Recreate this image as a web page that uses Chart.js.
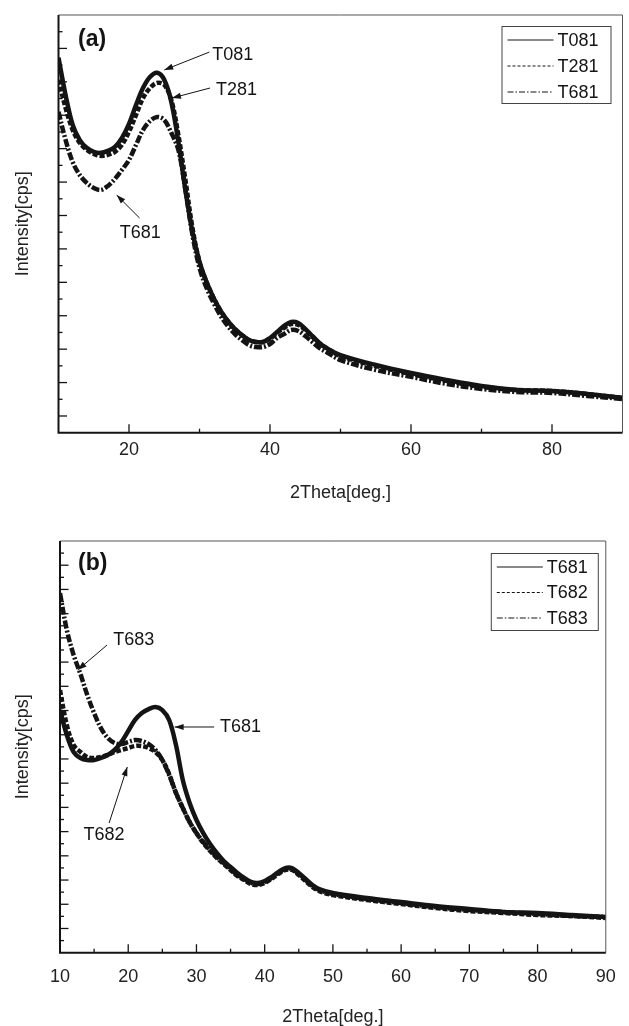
<!DOCTYPE html>
<html><head><meta charset="utf-8">
<script src="https://cdn.jsdelivr.net/npm/chart.js@4.4.1/dist/chart.umd.min.js"></script>
<style>
html,body{margin:0;padding:0;background:#fff;}
#wrap{position:relative;width:629px;height:1026px;overflow:hidden;}
canvas{position:absolute;left:0;}
</style></head><body>
<div id="wrap">
<canvas id="ca" width="629" height="515" style="top:0;width:629px;height:515px"></canvas>
<canvas id="cb" width="629" height="511" style="top:515px;width:629px;height:511px"></canvas>
</div>
<script>
// 2Theta sampling positions (deg.)
const twoTheta = [10,11,12,13,14,15,16,17,18,19,20,21,22,23,24,25,26,27,28,29,30,31,32,33,34,35,36,37,38,39,40,41,42,43,44,45,46,47,48,50,55,60,65,70,75,80,85,90];

// Panel (a) intensities (arbitrary units)
const T081a = [22.44,20.22,18.43,17.53,17.05,16.81,16.75,16.87,17.11,17.65,18.49,19.62,20.64,21.30,21.54,21.12,19.80,17.41,14.53,12.02,10.22,9.02,8.07,7.29,6.69,6.21,5.85,5.55,5.43,5.43,5.67,6.03,6.39,6.63,6.57,6.21,5.79,5.37,5.07,4.65,4.05,3.57,3.16,2.80,2.56,2.50,2.32,2.08];
const T281a = [21.12,19.44,18.13,17.35,16.93,16.69,16.57,16.63,16.81,17.23,18.01,19.02,20.04,20.64,20.94,20.82,19.92,17.83,15.13,12.26,10.22,9.02,8.07,7.29,6.69,6.21,5.85,5.55,5.43,5.43,5.61,5.97,6.27,6.51,6.45,6.15,5.73,5.37,5.07,4.59,3.99,3.51,3.10,2.74,2.56,2.50,2.32,2.08];
const T681a = [19.20,17.53,16.21,15.43,14.95,14.65,14.53,14.77,15.19,15.73,16.33,17.23,18.13,18.66,18.90,18.72,17.95,16.93,14.53,11.84,9.86,8.66,7.77,6.99,6.39,5.91,5.55,5.25,5.13,5.13,5.31,5.67,5.91,6.15,6.09,5.79,5.43,5.07,4.83,4.35,3.75,3.34,2.92,2.62,2.44,2.38,2.20,2.02];

// Panel (b) intensities
const T681b = [20.04,17.98,16.57,16.08,15.91,15.91,16.08,16.33,16.74,17.40,18.31,19.22,19.79,20.12,20.29,20.04,19.22,17.15,14.26,12.36,10.96,9.88,8.98,8.23,7.57,7.08,6.58,6.17,5.84,5.76,5.92,6.25,6.66,6.99,6.99,6.58,6.09,5.59,5.26,4.93,4.52,4.19,3.86,3.61,3.36,3.28,3.11,2.95];
const T682b = [21.69,18.80,17.15,16.57,16.16,16.08,16.16,16.33,16.57,16.74,16.90,17.07,17.07,16.90,16.57,15.91,14.76,13.19,11.95,10.79,9.88,9.06,8.40,7.82,7.32,6.83,6.33,6.00,5.67,5.59,5.76,6.09,6.50,6.83,6.83,6.42,5.92,5.43,5.09,4.76,4.35,4.02,3.69,3.44,3.28,3.11,3.03,2.87];
const T683b = [29.70,26.65,24.58,23.01,21.28,19.79,18.55,17.73,17.32,17.23,17.40,17.56,17.48,17.23,16.74,15.91,14.67,13.19,11.95,10.79,9.88,9.14,8.48,7.90,7.41,6.91,6.42,6.09,5.76,5.67,5.84,6.17,6.58,6.91,6.91,6.50,6.00,5.51,5.18,4.85,4.43,4.10,3.77,3.53,3.36,3.20,3.03,2.95];

const seriesA = ['T081','T281','T681'];
const seriesB = ['T681','T682','T683'];
const xTitle = '2Theta[deg.]';
const yTitle = 'Intensity[cps]';

const FONT = '"Liberation Sans", Arial, Helvetica, sans-serif';
const INK = '#141414';

function pts(arr){ return twoTheta.map((x,i)=>({x:x, y:arr[i]})); }

function arrow(ctx, x1,y1,x2,y2){
  ctx.beginPath(); ctx.moveTo(x1,y1); ctx.lineTo(x2,y2); ctx.stroke();
  const a = Math.atan2(y2-y1, x2-x1), L=9, W=3;
  ctx.beginPath();
  ctx.moveTo(x2,y2);
  ctx.lineTo(x2 - L*Math.cos(a) + W*Math.sin(a), y2 - L*Math.sin(a) - W*Math.cos(a));
  ctx.lineTo(x2 - L*Math.cos(a) - W*Math.sin(a), y2 - L*Math.sin(a) + W*Math.cos(a));
  ctx.closePath(); ctx.fill();
}

const decor = {
  id:'decor',
  afterDraw(chart){
    const o = chart.options.plugins.decor;
    const {ctx, chartArea:ca, scales:{x,y}} = chart;
    ctx.save();
    ctx.strokeStyle = INK; ctx.fillStyle = INK;
    // inward ticks
    ctx.lineWidth = 1.3;
    x.ticks.forEach(t=>{
      if (t.value<=x.min || t.value>=x.max) return;
      const px = x.getPixelForValue(t.value);
      const len = (t.value % o.xMajor === 0) ? 8.5 : 4;
      ctx.beginPath(); ctx.moveTo(px, ca.bottom); ctx.lineTo(px, ca.bottom-len); ctx.stroke();
    });
    y.ticks.forEach(t=>{
      if (t.value<=y.min || t.value>=y.max) return;
      const py = y.getPixelForValue(t.value);
      const len = (Math.abs(t.value % 2) === o.yMajorRem) ? 8.5 : 4;
      ctx.beginPath(); ctx.moveTo(ca.left, py); ctx.lineTo(ca.left+len, py); ctx.stroke();
    });
    // frame
    ctx.lineWidth = 1; ctx.strokeStyle = '#555';
    ctx.beginPath(); ctx.moveTo(ca.left, ca.top); ctx.lineTo(ca.right, ca.top); ctx.lineTo(ca.right, ca.bottom); ctx.stroke();
    ctx.lineWidth = 2; ctx.strokeStyle = INK;
    ctx.beginPath(); ctx.moveTo(ca.left, ca.top); ctx.lineTo(ca.left, ca.bottom); ctx.lineTo(ca.right, ca.bottom); ctx.stroke();
    // panel tag
    ctx.font = 'bold 23px ' + FONT; ctx.textAlign='left'; ctx.textBaseline='middle';
    ctx.fillText(o.tag, ca.left + o.tagDx, ca.top + o.tagDy);
    // annotations
    ctx.font = '18px ' + FONT; ctx.lineWidth = 1;
    o.notes.forEach(n=>{
      ctx.fillText(n.text, x.getPixelForValue(n.tx), y.getPixelForValue(n.ty));
      arrow(ctx, x.getPixelForValue(n.x1), y.getPixelForValue(n.y1), x.getPixelForValue(n.x2), y.getPixelForValue(n.y2));
    });
    // legend
    const L = o.legend;
    const bx = ca.right - L.dRight - L.w, by = ca.top + L.dTop;
    ctx.lineWidth = 1; ctx.strokeStyle = '#444';
    ctx.strokeRect(bx+0.5, by+0.5, L.w, L.h);
    chart.data.datasets.forEach((ds,i)=>{
      const ry = by + L.row0 + i*L.rowGap;
      ctx.strokeStyle = INK; ctx.lineWidth = 1.1;
      ctx.setLineDash(ds.legendDash || []);
      ctx.beginPath(); ctx.moveTo(bx+6, ry); ctx.lineTo(bx+52, ry); ctx.stroke();
      ctx.setLineDash([]);
      ctx.fillText(ds.label, bx+56, ry+1);
    });
    ctx.restore();
  }
};

function makeChart(id, labels, dataArrs, cfg){
  const dashes = [[], [5,2], [8,2,2,2]];
  const legendDashes = [[], [3,2], [6,2,1.5,2]];
  return new Chart(document.getElementById(id), {
    type:'line',
    data:{ datasets: labels.map((lab,i)=>({
      label: lab, data: pts(dataArrs[i]),
      borderColor: INK, borderWidth: 4.5, borderDash: dashes[i], legendDash: legendDashes[i],
      pointRadius: 0, tension: 0.35, fill:false
    }))},
    options:{
      responsive:false, animation:false, devicePixelRatio:1,
      layout:{ padding: cfg.padding },
      plugins:{ legend:{display:false}, tooltip:{enabled:false}, decor: cfg.decor },
      scales:{
        x:{ type:'linear', position:'bottom', min:10, max:90,
            grid:{display:false, drawTicks:false}, border:{display:false},
            ticks:{ stepSize: cfg.xStep, autoSkip:false, maxRotation:0, color:'#222',
                    font:{family:FONT, size:18}, padding: cfg.xLabelPad,
                    callback: v => cfg.xShow(v) ? String(v) : '' },
            title:{ display:true, text:xTitle, color:'#222', font:{family:FONT, size:18, lineHeight:1},
                    padding:{top:0, bottom: cfg.xTitlePad} },
            afterFit: s => { s.height = cfg.xHeight; } },
        y:{ min:0, max: cfg.yMax,
            grid:{display:false, drawTicks:false}, border:{display:false},
            ticks:{ stepSize:1, display:false },
            title:{ display:true, text:yTitle, color:'#222', font:{family:FONT, size:18, lineHeight:1},
                    padding:{top: cfg.yTitlePad, bottom:0} },
            afterFit: s => { s.width = cfg.yWidth; } }
      }
    },
    plugins:[decor]
  });
}

makeChart('ca', seriesA, [T081a, T281a, T681a], {
  padding:{left:0, top:15, right:3, bottom:0},
  xStep:10, xShow: v => v%20===0 && v>10 && v<90, xLabelPad:6.5, xTitlePad:13, xHeight:82.3,
  yMax:25, yTitlePad:14, yWidth:58.5,
  decor:{ xMajor:20, yMajorRem:1, tag:'(a)', tagDx:19.5, tagDy:25,
    notes:[
      {text:'T081', tx:31.8, ty:22.6, x1:31.4, y1:22.78, x2:25.0, y2:21.71},
      {text:'T281', tx:32.35, ty:20.5, x1:31.5, y1:20.63, x2:26.1, y2:20.03},
      {text:'T681', tx:18.7, ty:11.95, x1:21.5, y1:12.85, x2:18.25, y2:14.22}
    ],
    legend:{ w:109, h:77, dRight:12, dTop:11, row0:14, rowGap:26 } }
});

makeChart('cb', seriesB, [T681b, T682b, T683b], {
  padding:{left:0, top:26, right:13, bottom:0},
  xStep:5, xShow: v => v%10===0, xLabelPad:13.2, xTitlePad:0.3, xHeight:73.3,
  yMax:34, yTitlePad:14, yWidth:60,
  decor:{ xMajor:10, yMajorRem:0, tag:'(b)', tagDx:18, tagDy:23,
    notes:[
      {text:'T683', tx:17.8, ty:25.82, x1:16.9, y1:25.41, x2:12.6, y2:23.35},
      {text:'T681', tx:33.45, ty:18.64, x1:32.6, y1:18.64, x2:26.8, y2:18.64},
      {text:'T682', tx:13.45, ty:9.72, x1:17.2, y1:10.71, x2:19.86, y2:15.34}
    ],
    legend:{ w:107, h:77, dRight:8, dTop:12, row0:14, rowGap:25.5 } }
});
</script>
</body></html>
